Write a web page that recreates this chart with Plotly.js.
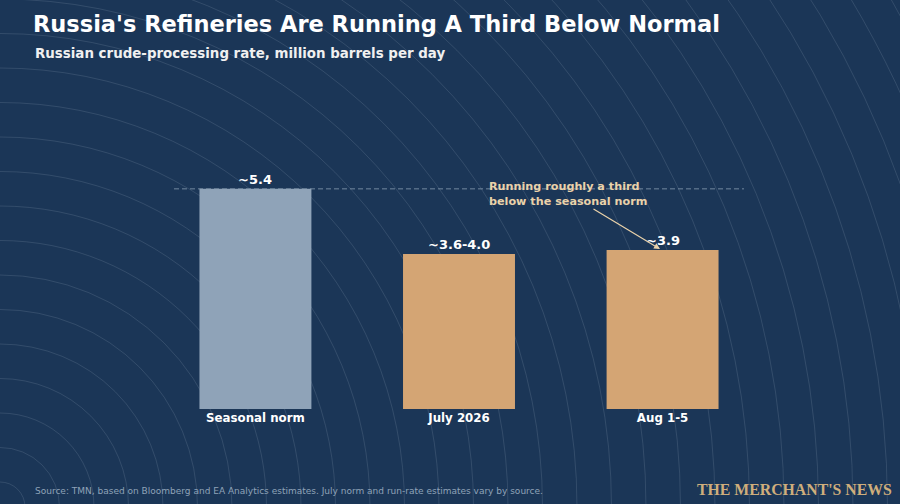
<!DOCTYPE html>
<html>
<head>
<meta charset="utf-8">
<script src="https://cdn.plot.ly/plotly-3.0.1.min.js"></script>
<style>
html,body{margin:0;padding:0;background:#1b3657;}
#chart{width:900px;height:504px;}
</style>
</head>
<body>
<div id="chart"></div>
<script>
// ---- data ----
const categories = ['Seasonal norm', 'July 2026', 'Aug 1-5'];
const values = [5.4, 3.8, 3.9];
const valueLabels = ['~5.4', '~3.6-4.0', '~3.9'];
const barColors = ['#8fa3b8', '#d4a574', '#d4a574'];
const normLevel = 5.4;

// ---- layout geometry ----
const W = 900, H = 504;
const M = {l: 174, r: 156, t: 144, b: 95};
const PW = W - M.l - M.r, PH = H - M.t - M.b;
const px2x = px => (px - M.l) / PW;
const py2y = py => (H - M.b - py) / PH;

const BG = '#1b3657';
const FONT = 'DejaVu Sans, sans-serif';

// decorative concentric arcs (background)
const shapes = [];
const cx = 0, cy = 507;
for (let r = 25; r < 1100; r += 34.5) {
  shapes.push({
    type: 'circle', xref: 'paper', yref: 'paper', layer: 'below',
    x0: px2x(cx - r), x1: px2x(cx + r),
    y0: py2y(cy + r), y1: py2y(cy - r),
    line: {color: 'rgba(200,210,225,0.18)', width: 0.8}
  });
}
// seasonal norm reference line
shapes.push({
  type: 'line', xref: 'paper', yref: 'y', layer: 'below',
  x0: 0, x1: 1, y0: normLevel, y1: normLevel,
  line: {color: 'rgba(143,163,184,0.75)', width: 1, dash: '5px,3px'}
});

const annotations = [];
categories.forEach((c, i) => {
  annotations.push({
    x: c, y: values[i], xref: 'x', yref: 'y',
    text: valueLabels[i], showarrow: false,
    yanchor: 'bottom', yshift: 0,
    font: {family: FONT, size: 13, color: '#ffffff', weight: 'bold'}
  });
});
// callout text
annotations.push({
  x: px2x(487), y: py2y(194), xref: 'paper', yref: 'paper',
  text: 'Running roughly a third<br>below the seasonal norm',
  showarrow: false, xanchor: 'left', yanchor: 'middle', align: 'left',
  font: {family: FONT, size: 11.2, color: '#ead2aa', weight: 'bold'}
});
// callout arrow
annotations.push({
  x: px2x(660), y: py2y(249), xref: 'paper', yref: 'paper',
  ax: px2x(592), ay: py2y(208), axref: 'paper', ayref: 'paper',
  text: '', showarrow: true, arrowhead: 2, arrowsize: 1, arrowwidth: 1.2,
  arrowcolor: '#ead2aa', standoff: 0
});
// subtitle
annotations.push({
  x: px2x(33), y: py2y(53), xref: 'paper', yref: 'paper',
  text: 'Russian crude-processing rate, million barrels per day',
  showarrow: false, xanchor: 'left', yanchor: 'middle',
  font: {family: FONT, size: 13.4, color: '#f0f0f0', weight: 'bold'}
});
// source
annotations.push({
  x: px2x(33), y: py2y(491), xref: 'paper', yref: 'paper',
  text: 'Source: TMN, based on Bloomberg and EA Analytics estimates. July norm and run-rate estimates vary by source.',
  showarrow: false, xanchor: 'left', yanchor: 'middle',
  font: {family: FONT, size: 9, color: '#8fa3b8'}
});
// brand
annotations.push({
  x: px2x(894), y: py2y(489), xref: 'paper', yref: 'paper',
  text: "THE MERCHANT'S NEWS",
  showarrow: false, xanchor: 'right', yanchor: 'middle',
  font: {family: 'Liberation Serif, serif', size: 15.8, color: '#cfae7c', weight: 'bold'}
});

const trace = {
  type: 'bar', x: categories, y: values,
  marker: {color: barColors, line: {width: 0}},
  width: 0.55, hoverinfo: 'skip'
};

const layout = {
  width: W, height: H,
  margin: M,
  paper_bgcolor: BG, plot_bgcolor: 'rgba(0,0,0,0)',
  showlegend: false,
  title: {
    text: "Russia's Refineries Are Running A Third Below Normal",
    xref: 'container', yref: 'container', x: 33 / W, xanchor: 'left',
    y: 1 - 24 / H, yanchor: 'middle',
    font: {family: FONT, size: 22.5, color: '#ffffff', weight: 'bold'}
  },
  xaxis: {
    type: 'category', range: [-0.4, 2.4], showgrid: false, zeroline: false,
    showline: false, ticks: '', fixedrange: true,
    tickfont: {family: FONT, size: 11.8, color: '#ffffff', weight: 'bold'}
  },
  yaxis: {
    range: [0, 6.5], visible: false, showgrid: false, zeroline: false, fixedrange: true
  },
  shapes: shapes,
  annotations: annotations
};

Plotly.newPlot('chart', [trace], layout, {displayModeBar: false, staticPlot: true});
</script>
</body>
</html>
